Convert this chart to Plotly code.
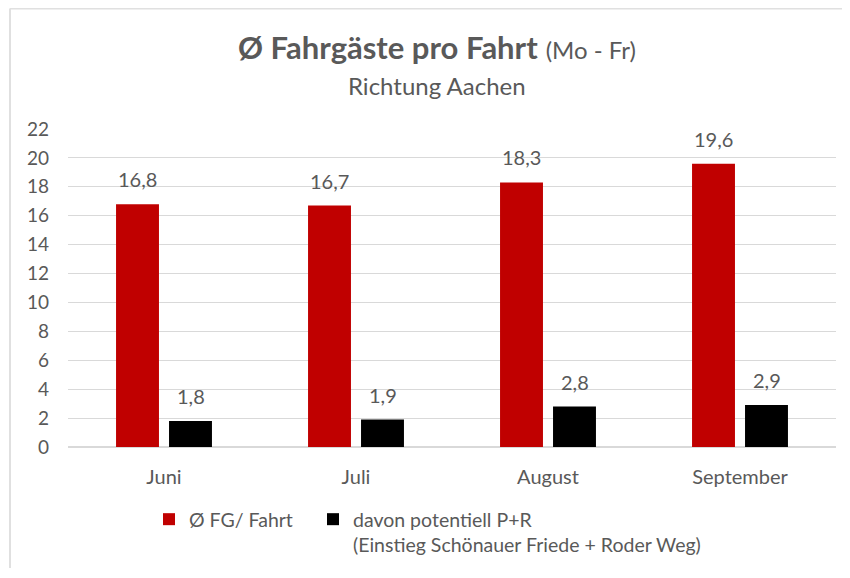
import plotly.graph_objects as go

months = ["Juni", "Juli", "August", "September"]
fg_per_fahrt = [16.8, 16.7, 18.3, 19.6]
pr_potential = [1.8, 1.9, 2.8, 2.9]
y_ticks = [0, 2, 4, 6, 8, 10, 12, 14, 16, 18, 20, 22]

FONT = "Lato, 'Open Sans', sans-serif"
GRAY = "#595959"

W, H = 834, 560          # page body has an 8px margin
ML, MT = 60, 121
plot_w = 828 - ML
plot_h = 439 - MT
MR = W - ML - plot_w
MB = H - MT - plot_h

def px(page_x):
    return (page_x - 8 - ML) / plot_w

def py(page_y):
    return (H - MB - (page_y - 8)) / plot_h

def fmt(v):
    return f"{v:.1f}".replace(".", ",")

fig = go.Figure()
fig.add_trace(go.Bar(
    x=months, y=fg_per_fahrt, name="Ø FG/ Fahrt",
    marker=dict(color="#C00000", line=dict(width=0)),
    legend="legend",
))
fig.add_trace(go.Bar(
    x=months, y=pr_potential,
    name="davon potentiell P+R<br>(Einstieg Schönauer Friede + Roder Weg)",
    marker=dict(color="#000000", line=dict(width=0)),
    legend="legend2",
))

annotations = []
slot_px = 53.0
for vals, shift in ((fg_per_fahrt, -slot_px / 2), (pr_potential, slot_px / 2)):
    for m, v in zip(months, vals):
        annotations.append(dict(
            x=m, y=v, xref="x", yref="y", text=fmt(v), showarrow=False,
            xshift=shift, yshift=11, yanchor="bottom",
            font=dict(size=20, color=GRAY, family=FONT)))

annotations += [
    dict(text="<b>Ø Fahrgäste pro Fahrt</b> <span style='font-size:24px'>(Mo - Fr)</span>",
         x=px(436.5), y=py(47), xref="paper", yref="paper", showarrow=False,
         xanchor="center", yanchor="middle",
         font=dict(size=31, color=GRAY, family=FONT)),
    dict(text="Richtung Aachen", x=px(437), y=py(85), xref="paper", yref="paper",
         showarrow=False, xanchor="center", yanchor="middle",
         font=dict(size=24, color=GRAY, family=FONT)),
]

legend_common = dict(orientation="h", yanchor="top", xanchor="left",
                     font=dict(size=19.5, color=GRAY, family=FONT),
                     itemwidth=30, valign="top", bgcolor="rgba(0,0,0,0)")

fig.update_layout(
    width=W, height=H,
    paper_bgcolor="white", plot_bgcolor="white",
    margin=dict(l=ML, r=MR, t=MT, b=MB, autoexpand=False),
    barmode="group", bargap=0.448, bargroupgap=0.19,
    font=dict(family=FONT, color=GRAY, size=19),
    showlegend=True,
    legend=dict(x=px(149), y=py(500), **legend_common),
    legend2=dict(x=px(313), y=py(500), **legend_common),
    xaxis=dict(showgrid=False, showline=False, ticks="",
               tickfont=dict(size=20, color=GRAY), ticklabelstandoff=16),
    yaxis=dict(range=[0, 22], tickvals=y_ticks, showgrid=True, gridcolor="#D9D9D9",
               gridwidth=1, zeroline=True, zerolinecolor="#D9D9D9", showline=False,
               tickfont=dict(size=19, color=GRAY), ticklabelstandoff=18),
    annotations=annotations,
    shapes=[
        dict(type="line", xref="paper", yref="paper", x0=px(10), x1=px(8 + W),
             y0=py(8.5), y1=py(8.5), line=dict(color="#E0E0E0", width=2)),
        dict(type="line", xref="paper", yref="paper", x0=px(10), x1=px(10),
             y0=py(8.5), y1=py(8 + H), line=dict(color="#E0E0E0", width=2)),
    ],
)

fig.write_html("out.html")
